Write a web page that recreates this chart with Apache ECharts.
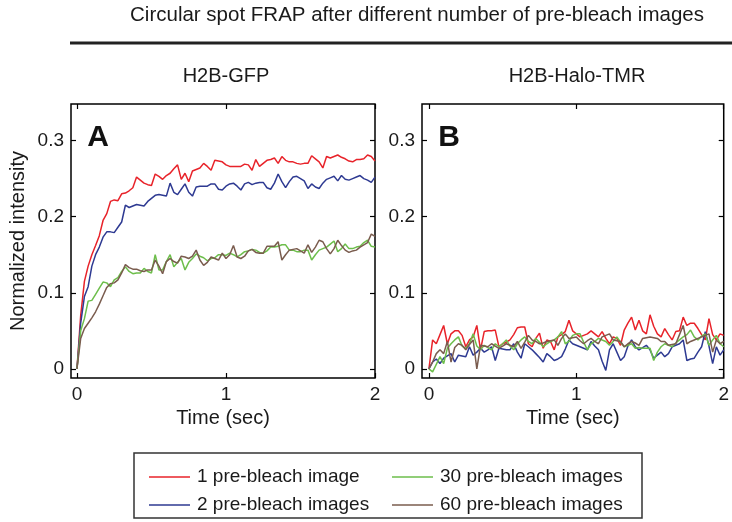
<!DOCTYPE html>
<html>
<head>
<meta charset="utf-8">
<script src="https://cdn.jsdelivr.net/npm/echarts@6/dist/echarts.min.js"></script>
<style>
html,body{margin:0;padding:0;background:#fff;}
#chart{width:732px;height:522px;}
</style>
</head>
<body>
<div id="chart"></div>
<script>
// ---- data ----
const times = [0,0.025,0.05,0.075,0.1,0.125,0.15,0.175,0.2,0.225,0.25,0.275,0.3,0.325,0.35,0.375,0.4,0.425,0.45,0.475,0.5,0.525,0.55,0.575,0.6,0.625,0.65,0.675,0.7,0.725,0.75,0.775,0.8,0.825,0.85,0.875,0.9,0.925,0.95,0.975,1.0,1.025,1.05,1.075,1.1,1.125,1.15,1.175,1.2,1.225,1.25,1.275,1.3,1.325,1.35,1.375,1.4,1.425,1.45,1.475,1.5,1.525,1.55,1.575,1.6,1.625,1.65,1.675,1.7,1.725,1.75,1.775,1.8,1.825,1.85,1.875,1.9,1.925,1.95,1.975,2.0];

// Panel A: H2B-GFP
const gfp1 = [0,0.07,0.115,0.135,0.15,0.162,0.175,0.195,0.204,0.22,0.222,0.221,0.23,0.231,0.234,0.238,0.252,0.248,0.244,0.242,0.241,0.256,0.253,0.249,0.254,0.257,0.263,0.268,0.249,0.257,0.246,0.26,0.262,0.264,0.27,0.266,0.261,0.274,0.273,0.272,0.268,0.266,0.266,0.266,0.266,0.269,0.268,0.261,0.275,0.266,0.27,0.274,0.275,0.277,0.27,0.279,0.274,0.272,0.272,0.27,0.269,0.27,0.27,0.28,0.276,0.272,0.264,0.279,0.277,0.279,0.281,0.278,0.276,0.273,0.272,0.275,0.275,0.276,0.281,0.279,0.273];
const gfp2 = [0,0.06,0.095,0.108,0.135,0.15,0.16,0.173,0.18,0.18,0.179,0.186,0.193,0.215,0.212,0.214,0.216,0.215,0.214,0.22,0.224,0.228,0.229,0.228,0.227,0.244,0.232,0.229,0.236,0.243,0.232,0.227,0.239,0.24,0.24,0.24,0.243,0.243,0.236,0.235,0.24,0.243,0.244,0.24,0.235,0.243,0.245,0.242,0.244,0.245,0.245,0.238,0.236,0.244,0.256,0.246,0.238,0.246,0.252,0.253,0.25,0.247,0.237,0.243,0.239,0.237,0.244,0.249,0.251,0.253,0.247,0.254,0.249,0.248,0.25,0.252,0.254,0.25,0.248,0.245,0.252];
const gfp30 = [0,0.05,0.066,0.089,0.09,0.098,0.106,0.114,0.113,0.108,0.117,0.12,0.128,0.134,0.128,0.125,0.126,0.126,0.132,0.128,0.126,0.15,0.13,0.13,0.141,0.15,0.134,0.14,0.145,0.13,0.14,0.145,0.151,0.148,0.146,0.142,0.145,0.146,0.15,0.15,0.149,0.152,0.15,0.147,0.15,0.154,0.155,0.157,0.156,0.153,0.152,0.155,0.16,0.16,0.161,0.163,0.163,0.156,0.156,0.154,0.154,0.156,0.156,0.143,0.15,0.156,0.158,0.16,0.164,0.168,0.154,0.158,0.164,0.158,0.158,0.16,0.161,0.166,0.169,0.161,0.16];
const gfp60 = [0,0.04,0.053,0.06,0.067,0.075,0.085,0.096,0.107,0.112,0.113,0.117,0.126,0.137,0.133,0.131,0.131,0.129,0.128,0.13,0.13,0.143,0.135,0.125,0.141,0.145,0.141,0.139,0.148,0.147,0.145,0.148,0.156,0.143,0.136,0.14,0.147,0.145,0.143,0.152,0.145,0.15,0.162,0.147,0.145,0.148,0.155,0.157,0.153,0.152,0.152,0.161,0.161,0.161,0.167,0.143,0.15,0.156,0.157,0.158,0.155,0.152,0.163,0.153,0.16,0.169,0.167,0.158,0.151,0.158,0.169,0.162,0.156,0.153,0.155,0.156,0.16,0.163,0.166,0.177,0.174];

// Panel B: H2B-Halo-TMR
const halo1 = [0,0.038,0.033,0.045,0.057,0.033,0.046,0.05,0.05,0.044,0.029,0.038,0.042,0.057,0.025,0.049,0.05,0.05,0.051,0.029,0.033,0.035,0.038,0.045,0.054,0.055,0.055,0.033,0.029,0.04,0.047,0.027,0.038,0.036,0.025,0.042,0.045,0.049,0.064,0.05,0.046,0.042,0.044,0.046,0.05,0.046,0.042,0.049,0.04,0.033,0.042,0.04,0.031,0.051,0.06,0.068,0.051,0.064,0.05,0.046,0.071,0.056,0.046,0.042,0.053,0.045,0.038,0.049,0.05,0.068,0.057,0.06,0.06,0.053,0.045,0.038,0.066,0.045,0.038,0.046,0.044];
const halo2 = [0,0.009,0.013,0.007,0.014,0.017,0.02,0.009,0.018,0.017,0.016,0.029,0.018,0.022,0.027,0.022,0.025,0.029,0.011,0.027,0.026,0.025,0.025,0.033,0.022,0.014,0.033,0.029,0.025,0.02,0.015,0.009,0.02,0.016,0.011,0.013,0.016,0.026,0.038,0.033,0.031,0.029,0.027,0.025,0.036,0.03,0.025,0.01,-0.002,0.025,0.033,0.022,0.011,0.016,0.03,0.038,0.029,0.025,0.028,0.031,0.025,0.014,0.018,0.022,0.016,0.02,0.029,0.031,0.033,0.038,0.011,0.013,0.014,0.022,0.029,0.049,0.03,0.007,0.029,0.018,0.025];
const halo30 = [0,-0.004,0.006,0.016,0.007,0.027,0.033,0.038,0.042,0.03,0.027,0.033,0.046,0.03,0.025,0.031,0.028,0.025,0.033,0.029,0.033,0.038,0.03,0.025,0.033,0.038,0.042,0.036,0.033,0.04,0.035,0.029,0.033,0.036,0.038,0.042,0.049,0.033,0.036,0.044,0.046,0.046,0.035,0.025,0.033,0.036,0.04,0.038,0.036,0.031,0.036,0.042,0.035,0.029,0.031,0.033,0.027,0.028,0.027,0.027,0.027,0.011,0.022,0.029,0.033,0.031,0.029,0.034,0.038,0.042,0.045,0.051,0.042,0.038,0.043,0.046,0.031,0.038,0.044,0.033,0.029];
const halo60 = [0,0.009,0.02,0.025,0.02,0.036,0.009,0.028,0.033,0.031,0.025,0.032,0.038,0.0,0.031,0.03,0.029,0.033,0.03,0.027,0.03,0.033,0.031,0.029,0.036,0.027,0.035,0.044,0.038,0.036,0.033,0.034,0.036,0.037,0.038,0.031,0.04,0.046,0.04,0.041,0.042,0.037,0.033,0.037,0.04,0.036,0.033,0.042,0.044,0.046,0.038,0.037,0.036,0.029,0.033,0.036,0.034,0.031,0.04,0.041,0.042,0.041,0.04,0.036,0.036,0.031,0.032,0.033,0.045,0.057,0.033,0.036,0.038,0.04,0.042,0.044,0.046,0.022,0.038,0.033,0.036];

const seriesNames = ['1 pre-bleach image','2 pre-bleach images','30 pre-bleach images','60 pre-bleach images'];
const xTicks = [0, 1, 2];
const yTicks = [0, 0.1, 0.2, 0.3];
const panelTitles = ['H2B-GFP', 'H2B-Halo-TMR'];
const panelLetters = ['A', 'B'];
const mainTitle = 'Circular spot FRAP after different number of pre-bleach images';

// ---- styling ----
const FONT = '"Liberation Sans", Arial, Helvetica, sans-serif';
const COLORS = ['#e8232a', '#2e3a92', '#6dbe4b', '#7a5c4e'];
const TXT = '#1a1a1a';

const chart = echarts.init(document.getElementById('chart'), null, {renderer: 'canvas'});

const grids = [
  {left: 71, top: 104, width: 304, height: 274},
  {left: 422, top: 104, width: 302, height: 274}
];
const xMins = [-0.04, -0.047];

function pairs(arr) { return times.map((t, i) => [t, arr[i]]); }

const xAxes = [], yAxes = [];
grids.forEach((g, gi) => {
  xAxes.push({
    type: 'value', gridIndex: gi, position: 'bottom', min: xMins[gi], max: 2,
    axisLine: {show: false, onZero: false},
    axisTick: {show: true, inside: true, length: 5, customValues: xTicks, lineStyle: {color: '#000', width: 1.2}},
    axisLabel: {show: true, customValues: xTicks, margin: 7, fontSize: 19, fontFamily: FONT, color: TXT},
    splitLine: {show: false},
    name: 'Time (sec)', nameLocation: 'middle', nameGap: 26,
    nameTextStyle: {fontSize: 20, fontFamily: FONT, color: TXT}
  });
  xAxes.push({
    type: 'value', gridIndex: gi, position: 'top', min: xMins[gi], max: 2,
    axisLine: {show: false, onZero: false},
    axisTick: {show: true, inside: true, length: 5, customValues: xTicks, lineStyle: {color: '#000', width: 1.2}},
    axisLabel: {show: false},
    splitLine: {show: false}
  });
  yAxes.push({
    type: 'value', gridIndex: gi, position: 'left', min: -0.012, max: 0.348,
    axisLine: {show: false, onZero: false},
    axisTick: {show: true, inside: true, length: 5, customValues: yTicks, lineStyle: {color: '#000', width: 1.2}},
    axisLabel: {show: true, customValues: yTicks, margin: 7, fontSize: 19, fontFamily: FONT, color: TXT},
    splitLine: {show: false},
    name: gi === 0 ? 'Normalized intensity' : '', nameLocation: 'middle', nameGap: 43,
    nameTextStyle: {fontSize: 20, fontFamily: FONT, color: TXT}
  });
  yAxes.push({
    type: 'value', gridIndex: gi, position: 'right', min: -0.012, max: 0.348,
    axisLine: {show: false, onZero: false},
    axisTick: {show: true, inside: true, length: 5, customValues: yTicks, lineStyle: {color: '#000', width: 1.2}},
    axisLabel: {show: false},
    splitLine: {show: false}
  });
});

const panelData = [[gfp1, gfp2, gfp30, gfp60], [halo1, halo2, halo30, halo60]];
const series = [];
panelData.forEach((set, gi) => {
  set.forEach((arr, si) => {
    series.push({
      type: 'line', name: seriesNames[si],
      xAxisIndex: gi * 2, yAxisIndex: gi * 2,
      data: pairs(arr), symbol: 'none', showSymbol: false,
      lineStyle: {color: COLORS[si], width: 1.5},
      itemStyle: {color: COLORS[si]},
      animation: false, clip: true
    });
  });
});

const legendCommon = {
  orient: 'vertical', top: 462, itemWidth: 41, itemHeight: 1.5, itemGap: 8,
  icon: 'rect',
  textStyle: {fontSize: 19, fontFamily: FONT, color: TXT, lineHeight: 20, padding: [0, 0, 0, 2]},
  selectedMode: false
};

const option = {
  backgroundColor: '#fff',
  animation: false,
  grid: grids.map(g => Object.assign({show: true, borderColor: '#000', borderWidth: 1.5, backgroundColor: 'transparent'}, g)),
  xAxis: xAxes,
  yAxis: yAxes,
  legend: [
    Object.assign({left: 144, data: [seriesNames[0], seriesNames[1]]}, legendCommon),
    Object.assign({left: 387, data: [seriesNames[2], seriesNames[3]]}, legendCommon)
  ],
  graphic: [
    {type: 'text', x: 417, y: 15, style: {text: mainTitle, fontSize: 20.5, fontFamily: FONT, fill: TXT, align: 'center', verticalAlign: 'middle', textAlign: 'center', textVerticalAlign: 'middle'}},
    {type: 'line', shape: {x1: 70, y1: 43, x2: 732, y2: 43}, style: {stroke: '#222', lineWidth: 3}},
    {type: 'text', x: 226, y: 76, style: {text: panelTitles[0], fontSize: 20, fontFamily: FONT, fill: TXT, align: 'center', verticalAlign: 'middle', textAlign: 'center', textVerticalAlign: 'middle'}},
    {type: 'text', x: 577, y: 76, style: {text: panelTitles[1], fontSize: 20, fontFamily: FONT, fill: TXT, align: 'center', verticalAlign: 'middle', textAlign: 'center', textVerticalAlign: 'middle'}},
    {type: 'text', x: 98, y: 138, style: {text: panelLetters[0], fontSize: 30, fontWeight: 'bold', fontFamily: FONT, fill: '#111', align: 'center', verticalAlign: 'middle', textAlign: 'center', textVerticalAlign: 'middle'}},
    {type: 'text', x: 449, y: 138, style: {text: panelLetters[1], fontSize: 30, fontWeight: 'bold', fontFamily: FONT, fill: '#111', align: 'center', verticalAlign: 'middle', textAlign: 'center', textVerticalAlign: 'middle'}},
    {type: 'rect', shape: {x: 134, y: 453, width: 508, height: 65}, style: {fill: 'none', stroke: '#333', lineWidth: 1.5}, z: -1}
  ],
  series: series
};
chart.setOption(option);
</script>
</body>
</html>
